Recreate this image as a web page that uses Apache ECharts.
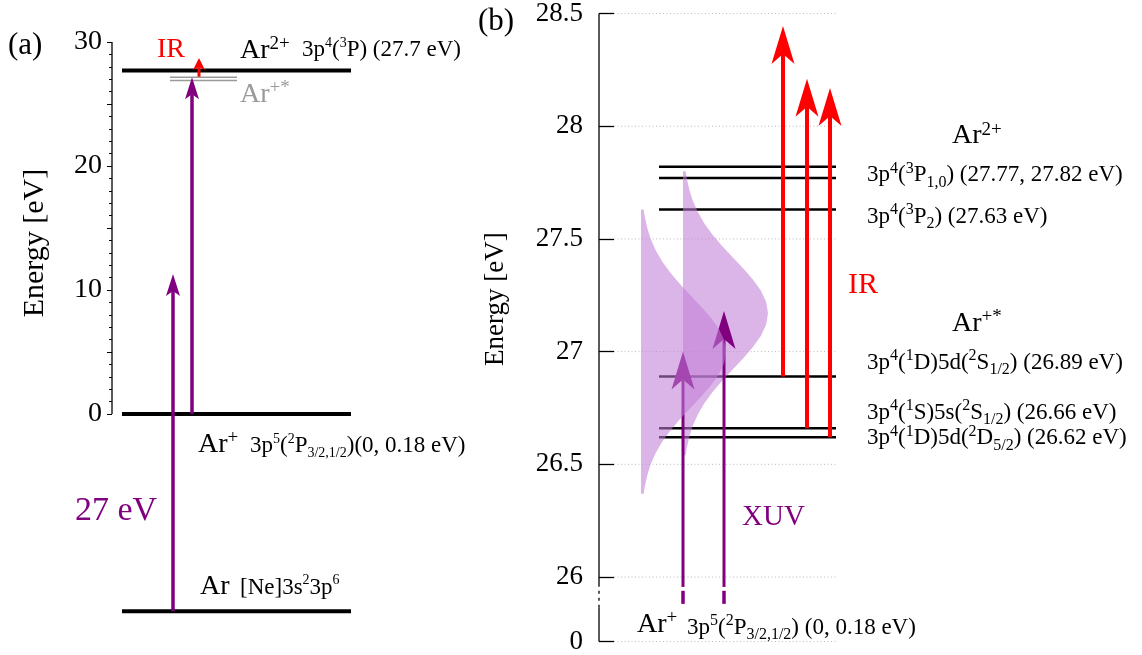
<!DOCTYPE html>
<html><head><meta charset="utf-8">
<script src="https://cdn.jsdelivr.net/npm/echarts@6/dist/echarts.min.js"></script>
<style>html,body{margin:0;padding:0;background:#fff}#c{width:1142px;height:655px}</style>
</head><body><div id="c"></div>
<script>
// ================= DATA =================
// Panel (a): energies in eV (relative to the Ar+ ground state)
const aTickLabelValues = [0, 10, 20, 30];
const aMajorTickValues = [0, 5, 10, 15, 20, 25, 30];
const aMinorTickValues = [0,1,2,3,4,5,6,7,8,9,10,11,12,13,14,15,16,17,18,19,20,21,22,23,24,25,26,27,28,29,30];
const aLevelEnergies = [27.7, 0, -15.9];          // Ar2+, Ar+, Ar
const aExcitedEnergies = [27.15, 26.9];           // Ar+* (grey)
const aXuvArrows = [[-15.9, 11.3], [0, 27.15]];   // [from, to]
const aIrArrows = [[27.2, 28.7]];

// Panel (b): energies in eV
const bTickValues = [26, 26.5, 27, 27.5, 28, 28.5];
const bBreakValue = 25.714;                       // broken-axis position shown as "0"
const bZeroLabel = '0';
const bLevelEnergies = [27.82, 27.77, 27.63, 26.89, 26.66, 26.62];
const bXuvTips = [27.0, 27.18];
const bXuvStart = 25.956;
const bXuvStub = [25.881, 25.939];
const bIrArrows = [[26.89, 28.445], [26.66, 28.21], [26.62, 28.17]];
const bPulseCenters = [27.0, 27.17];
const bPulseOffsets = [-0.63,-0.6,-0.55,-0.5,-0.45,-0.4,-0.35,-0.3,-0.25,-0.2,-0.15,-0.1,-0.05,0,0.05,0.1,0.15,0.2,0.25,0.3,0.35,0.4,0.45,0.5,0.55,0.6,0.63];
const bPulseWidths  = [2.7,3.7,6.2,9.7,14.7,21.2,29.4,38.9,49.4,60.1,69.9,78,83.2,85,83.2,78,69.9,60.1,49.4,38.9,29.4,21.2,14.7,9.7,6.2,3.7,2.7];

// ================= LAYOUT (horizontal schematic positions) =================
const LA = { levelX: [10, 239], excitedX: [58, 125], xuvX: [61, 80], irX: [87] };
const LB = { levelX: [60, 237], gridX: [15, 238], xuvX: [84, 125], irX: [184, 208, 231], pulseBase: [42, 84] };

const F = 'Liberation Serif';
const PURPLE = '#800080', RED = '#ff0000', GREY = '#9a9a9a';

function tok(size, fill, lh, va){ const o = {fontFamily:F, fontSize:size, fill:fill, lineHeight:lh}; if (va) o.verticalAlign = va; return o; }
const rich = {
  big:  tok(28, '#000', 32),
  bsup: tok(19, '#000', 20, 'top'),
  gbig: tok(28, GREY, 32),
  gsup: tok(19, GREY, 20, 'top'),
  n:  tok(23, '#000', 28),
  s:  tok(14, '#000', 20, 'top'),
  u:  tok(14, '#000', 14, 'bottom'),
  m:  tok(23, '#000', 30),
  ms: tok(16, '#000', 16, 'top'),
  mu: tok(16, '#000', 18, 'bottom'),
  ir: tok(28, RED, 30),
  ir2:tok(30, RED, 32),
  pur:tok(29, PURPLE, 32),
  pbig:tok(34, PURPLE, 38),
  yl: tok(30, '#000', 34),
  yl2:tok(27, '#000', 30)
};

// text anchors: [x, energy, rich text]
const aTexts = [
  [45, 29.35, '{ir|IR}'],
  [128, 29.31, '{big|Ar}{bsup|2+}'],
  [190, 29.35, '{n|3p}{s|4}{n|(}{s|3}{n|P) (27.7 eV)}'],
  [128, 25.77, '{gbig|Ar}{gsup|+*}'],
  [86, -2.5, '{big|Ar}{bsup|+}'],
  [138, -2.58, '{n|3p}{s|5}{n|(}{s|2}{n|P}{u|3/2,1/2}{n|)(0, 0.18 eV)}'],
  [-37, -7.82, '{pbig|27 eV}'],
  [88, -13.95, '{big|Ar}'],
  [128, -14.0, '{n|[Ne]3s}{s|2}{n|3p}{s|6}'],
];
const aAxisName = [-77, 13.79, '{yl|Energy [eV]}'];
const bTexts = [
  [353, 27.956, '{big|Ar}{bsup|2+}'],
  [268, 27.782, '{m|3p}{ms|4}{m|(}{ms|3}{m|P}{mu|1,0}{m|) (27.77, 27.82 eV)}'],
  [268, 27.599, '{m|3p}{ms|4}{m|(}{ms|3}{m|P}{mu|2}{m|) (27.63 eV)}'],
  [249, 27.293, '{ir2|IR}'],
  [353, 27.123, '{big|Ar}{bsup|+*}'],
  [268, 26.949, '{m|3p}{ms|4}{m|(}{ms|1}{m|D)5d(}{ms|2}{m|S}{mu|1/2}{m|) (26.89 eV)}'],
  [268, 26.727, '{m|3p}{ms|4}{m|(}{ms|1}{m|S)5s(}{ms|2}{m|S}{mu|1/2}{m|) (26.66 eV)}'],
  [268, 26.615, '{m|3p}{ms|4}{m|(}{ms|1}{m|D)5d(}{ms|2}{m|D}{mu|5/2}{m|) (26.62 eV)}'],
  [143, 26.264, '{pur|XUV}'],
  [38, 25.789, '{big|Ar}{bsup|+}'],
  [88, 25.776, '{m|3p}{ms|5}{m|(}{ms|2}{m|P}{mu|3/2,1/2}{m|) (0, 0.18 eV)}'],
];
const bAxisName = [-103, 27.233, '{yl2|Energy [eV]}'];

// ================= HELPERS =================
function yIdx(g){ return g === 0 ? 0 : 2; }
function segSeries(g, data, style, z){
  return {type:'custom', coordinateSystem:'cartesian2d', xAxisIndex:g, yAxisIndex:yIdx(g), clip:false, silent:true, z:z,
    data:data, encode:{x:[0,2], y:[1,3]},
    renderItem:function(p, api){
      const a = api.coord([api.value(0), api.value(1)]), b = api.coord([api.value(2), api.value(3)]);
      return {type:'line', shape:{x1:a[0], y1:a[1], x2:b[0], y2:b[1]}, style:Object.assign({fill:null}, style)};
    }};
}
function arrowSeries(g, data, opt, z){
  return {type:'custom', coordinateSystem:'cartesian2d', xAxisIndex:g, yAxisIndex:yIdx(g), clip:false, silent:true, z:z,
    data:data, encode:{x:0, y:[1,2]},
    renderItem:function(p, api){
      const s = api.coord([api.value(0), api.value(1)]), t = api.coord([api.value(0), api.value(2)]);
      const ny = t[1] + opt.notch;
      return {type:'group', children:[
        {type:'line', shape:{x1:s[0], y1:s[1], x2:t[0], y2:ny}, style:{stroke:opt.color, lineWidth:opt.lw, fill:null}},
        {type:'polygon', shape:{points:[[t[0], t[1]], [t[0]-opt.w/2, t[1]+opt.len], [t[0], ny], [t[0]+opt.w/2, t[1]+opt.len]]}, style:{fill:opt.color}}
      ]};
    }};
}
function pulseSeries(baseX, center, z){
  return {type:'custom', coordinateSystem:'cartesian2d', xAxisIndex:1, yAxisIndex:2, clip:false, silent:true, z:z,
    data:[[baseX, center]],
    renderItem:function(p, api){
      const bx = api.value(0), c = api.value(1);
      const pts = [api.coord([bx, c + bPulseOffsets[0]])];
      for (let i = 0; i < bPulseOffsets.length; i++) pts.push(api.coord([bx + bPulseWidths[i], c + bPulseOffsets[i]]));
      pts.push(api.coord([bx, c + bPulseOffsets[bPulseOffsets.length-1]]));
      return {type:'polygon', shape:{points:pts}, style:{fill:'rgba(194,124,215,0.57)'}};
    }};
}
function textSeries(g, texts, axisName, z){
  const data = texts.map(t => [t[0], t[1], 0]);
  data.push([axisName[0], axisName[1], 1]);
  const strs = texts.map(t => t[2]).concat([axisName[2]]);
  return {type:'custom', coordinateSystem:'cartesian2d', xAxisIndex:g, yAxisIndex:yIdx(g), clip:false, silent:true, z:z,
    data:data, encode:{x:0, y:1},
    renderItem:function(p, api){
      const c = api.coord([api.value(0), api.value(1)]);
      const rot = api.value(2) === 1;
      return {type:'text', x:c[0], y:c[1], rotation: rot ? Math.PI/2 : 0,
        style:{text:strs[p.dataIndex], rich:rich, fill:'#000', fontFamily:F, fontSize:20,
               align: rot ? 'center' : 'left', verticalAlign:'middle'}};
    }};
}

// ================= SERIES =================
const series = [];
// Panel (a)
series.push(segSeries(0, [[0, 0, 0, 30]], {stroke:'#000', lineWidth:1.3}, 2));
series.push(segSeries(0, aLevelEnergies.map(e => [LA.levelX[0], e, LA.levelX[1], e]), {stroke:'#000', lineWidth:4}, 3));
series.push(segSeries(0, aExcitedEnergies.map(e => [LA.excitedX[0], e, LA.excitedX[1], e]), {stroke:GREY, lineWidth:1.5}, 3));
series.push(arrowSeries(0, aXuvArrows.map((a, i) => [LA.xuvX[i], a[0], a[1]]), {color:PURPLE, lw:3.5, len:22, w:14, notch:17}, 5));
series.push(arrowSeries(0, aIrArrows.map((a, i) => [LA.irX[i], a[0], a[1]]), {color:RED, lw:3, len:12, w:12, notch:9}, 6));
series.push(textSeries(0, aTexts, aAxisName, 10));
// Panel (b)
series.push(segSeries(1, [bBreakValue].concat(bTickValues).map(v => [LB.gridX[0], v, LB.gridX[1], v]), {stroke:'#bbbbbb', lineWidth:1, lineDash:[1,2.5]}, 1));
series.push(segSeries(1, [[0, bBreakValue, 0, 25.864], [0, 25.96, 0, 28.5]], {stroke:'#000', lineWidth:1.3}, 2));
series.push(segSeries(1, [[0, 25.864, 0, 25.96]], {stroke:'#000', lineWidth:1.3, lineDash:[3,4]}, 2));
series.push(segSeries(1, bLevelEnergies.map(e => [LB.levelX[0], e, LB.levelX[1], e]), {stroke:'#000', lineWidth:2.5}, 3));
series.push(pulseSeries(LB.pulseBase[1], bPulseCenters[1], 4));
series.push(arrowSeries(1, bXuvTips.map((t, i) => [LB.xuvX[i], bXuvStart, t]), {color:PURPLE, lw:3, len:38, w:23, notch:28}, 5));
series.push(segSeries(1, LB.xuvX.map(x => [x, bXuvStub[0], x, bXuvStub[1]]), {stroke:PURPLE, lineWidth:3.5}, 5));
series.push(pulseSeries(LB.pulseBase[0], bPulseCenters[0], 6));
series.push(arrowSeries(1, bIrArrows.map((a, i) => [LB.irX[i], a[0], a[1]]), {color:RED, lw:4, len:38, w:23, notch:28}, 7));
series.push(textSeries(1, bTexts, bAxisName, 10));

const option = {
  animation:false,
  backgroundColor:'#fff',
  title:[
    {text:'(a)', left:8, top:30, padding:0, textStyle:{fontFamily:F, fontSize:31, fontWeight:'normal', color:'#000'}},
    {text:'(b)', left:478, top:6, padding:0, textStyle:{fontFamily:F, fontSize:31, fontWeight:'normal', color:'#000'}}
  ],
  grid:[
    {left:112, top:42, width:250, height:582.8},
    {left:599, top:13, width:240, height:632.4}
  ],
  xAxis:[
    {gridIndex:0, type:'value', min:0, max:250, show:false},
    {gridIndex:1, type:'value', min:0, max:240, show:false}
  ],
  yAxis:[
    {gridIndex:0, type:'value', min:-17, max:30, position:'left',
     axisLine:{show:false}, splitLine:{show:false},
     axisTick:{show:true, customValues:aMajorTickValues, length:5, lineStyle:{color:'#000', width:1}},
     axisLabel:{show:true, customValues:aTickLabelValues, fontFamily:F, fontSize:28, color:'#000', margin:10}},
    {gridIndex:0, type:'value', min:-17, max:30, position:'left',
     axisLine:{show:false}, splitLine:{show:false},
     axisTick:{show:true, customValues:aMinorTickValues, length:3, lineStyle:{color:'#000', width:1}},
     axisLabel:{show:false}},
    {gridIndex:1, type:'value', min:bBreakValue, max:28.5, position:'left',
     axisLine:{show:false}, splitLine:{show:false},
     axisTick:{show:true, inside:true, customValues:[bBreakValue].concat(bTickValues), length:15, lineStyle:{color:'#000', width:1.3}},
     axisLabel:{show:true, customValues:[bBreakValue].concat(bTickValues), fontFamily:F, fontSize:27, color:'#000', margin:16,
       formatter:function(v){ return v < 25.9 ? bZeroLabel : String(v); }}}
  ],
  series:series
};
const chart = echarts.init(document.getElementById('c'), null, {renderer:'canvas'});
chart.setOption(option);
</script></body></html>
